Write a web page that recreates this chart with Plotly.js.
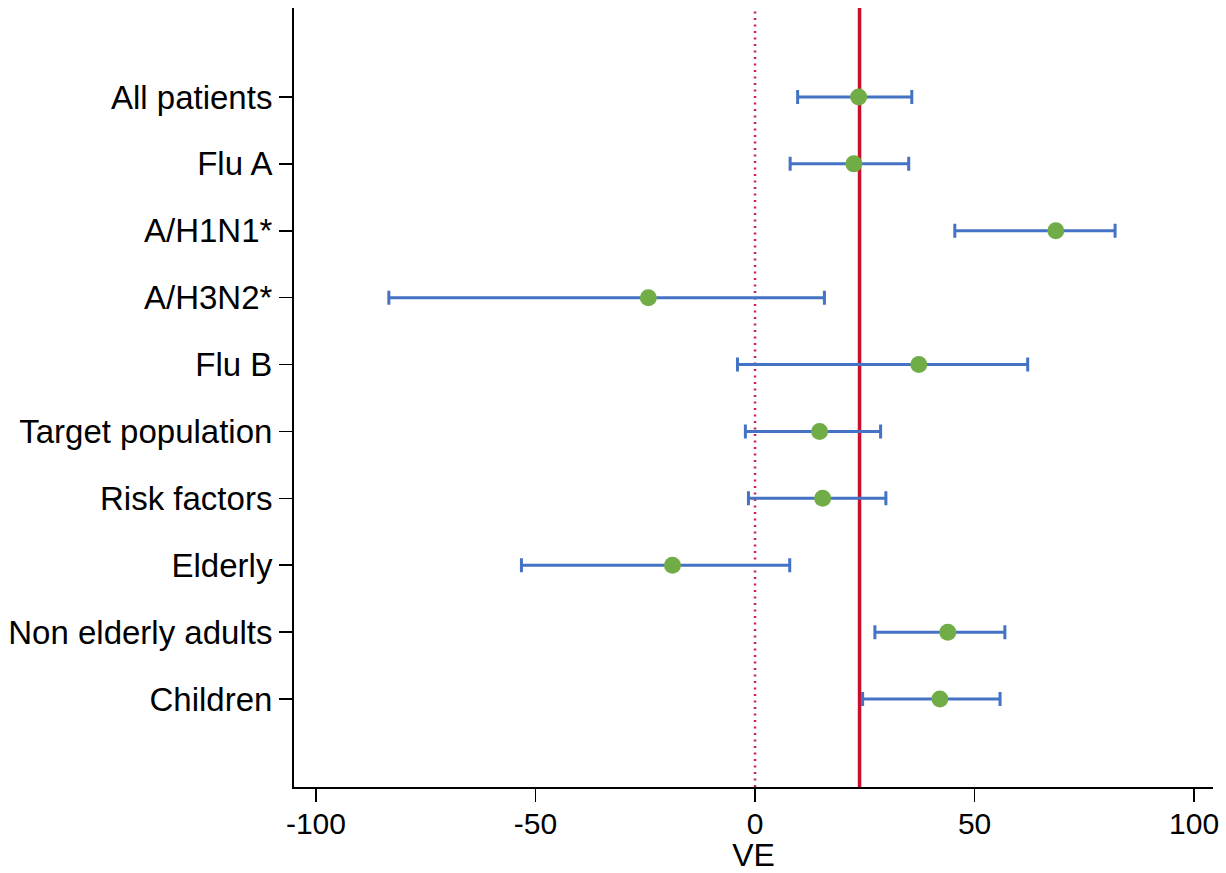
<!DOCTYPE html>
<html>
<head>
<meta charset="utf-8">
<script src="https://cdn.plot.ly/plotly-3.0.1.min.js"></script>
<style>html,body{margin:0;padding:0;background:#fff;}#chart{width:1226px;height:873px;}</style>
</head>
<body>
<div id="chart"></div>
<script>
const categories = ["All patients","Flu A","A/H1N1*","A/H3N2*","Flu B","Target population","Risk factors","Elderly","Non elderly adults","Children"];
const ve    = [23.6, 22.5, 68.5, -24.3, 37.3, 14.7, 15.4, -18.8, 43.9, 42.1];
const lower = [9.7, 8.0, 45.5, -83.4, -4.0, -2.2, -1.5, -53.2, 27.3, 24.5];
const upper = [35.7, 35.0, 82.0, 15.8, 62.1, 28.6, 29.8, 7.9, 56.9, 55.8];
const overallVE = 23.8;
const xTicks = [-100, -50, 0, 50, 100];

const errPlus = ve.map((v,i) => upper[i] - v);
const errMinus = ve.map((v,i) => v - lower[i]);

const trace = {
  type: 'scatter',
  mode: 'markers',
  x: ve,
  y: categories,
  marker: {color: '#70AD47', size: 17, line: {width: 0}},
  error_x: {type: 'data', symmetric: false, array: errPlus, arrayminus: errMinus,
            color: '#4472C4', thickness: 3, width: 7},
  hoverinfo: 'x+y',
  cliponaxis: false
};

const layout = {
  width: 1226, height: 873,
  margin: {l: 294, r: 13, t: 8, b: 86},
  paper_bgcolor: '#fff', plot_bgcolor: '#fff',
  showlegend: false,
  font: {family: 'Arial, "Liberation Sans", sans-serif', color: '#000'},
  xaxis: {
    range: [-105.0, 104.3],
    tickvals: xTicks, ticktext: xTicks.map(String),
    ticks: 'outside', ticklen: 13, tickwidth: 1.5, tickcolor: '#000',
    ticklabelstandoff: -4,
    showgrid: false, zeroline: false,
    showline: true, linecolor: '#000', linewidth: 2,
    tickfont: {size: 30, color: '#000'},
    title: {text: 'VE', font: {size: 32, color: '#000'}, standoff: 4}
  },
  yaxis: {
    type: 'category',
    categoryorder: 'array', categoryarray: categories,
    range: [10.315, -1.33],
    ticks: 'outside', ticklen: 13, tickwidth: 1.5, tickcolor: '#000',
    showgrid: false, zeroline: false,
    showline: true, linecolor: '#000', linewidth: 2,
    tickfont: {size: 33, color: '#000'}
  },
  shapes: [
    {type: 'line', xref: 'x', yref: 'paper', x0: 0, x1: 0, y0: 0, y1: 1,
     line: {color: '#D0204F', width: 2.5, dash: '2px,4.5px'}, layer: 'below'},
    {type: 'line', xref: 'x', yref: 'paper', x0: overallVE, x1: overallVE, y0: 0, y1: 1,
     line: {color: '#C8102E', width: 3.5}, layer: 'below'}
  ]
};

Plotly.newPlot('chart', [trace], layout, {displayModeBar: false, staticPlot: true});
</script>
</body>
</html>
